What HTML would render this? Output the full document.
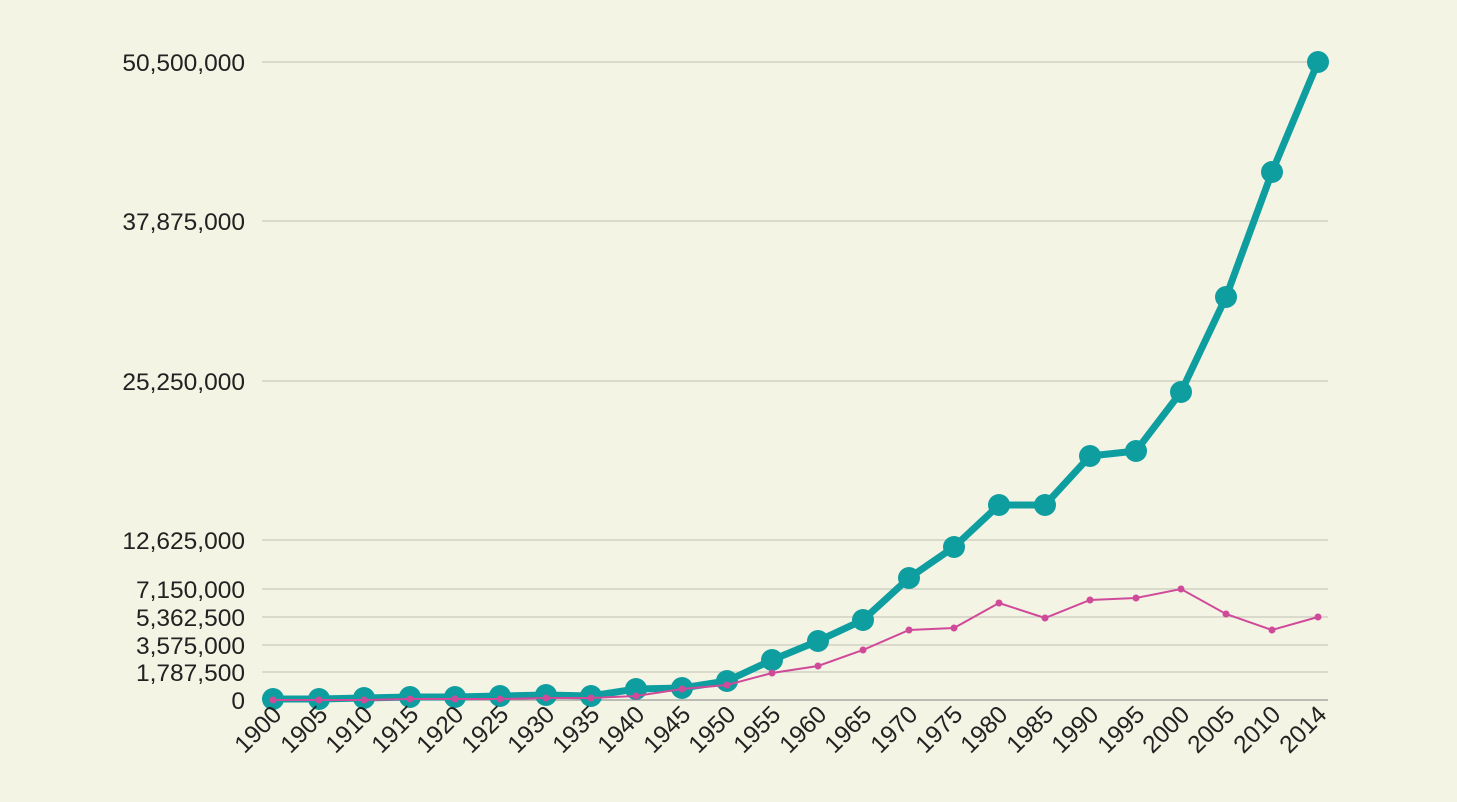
<!DOCTYPE html>
<html><head><style>
html,body{margin:0;padding:0;background:#f4f4e4;}
svg{display:block;font-family:"Liberation Sans",sans-serif;}
</style></head><body>
<svg width="1457" height="802" viewBox="0 0 1457 802">
<rect width="1457" height="802" fill="#f4f4e4"/>
<g stroke="#c9c9bd" stroke-width="1.2">
<line x1="262" x2="1328" y1="62" y2="62"/>
<line x1="262" x2="1328" y1="221" y2="221"/>
<line x1="262" x2="1328" y1="381" y2="381"/>
<line x1="262" x2="1328" y1="540" y2="540"/>
<line x1="262" x2="1328" y1="589" y2="589"/>
<line x1="262" x2="1328" y1="617" y2="617"/>
<line x1="262" x2="1328" y1="645" y2="645"/>
<line x1="262" x2="1328" y1="672" y2="672"/>
<line x1="262" x2="1328" y1="700" y2="700" stroke="#999"/>
</g>
<g font-size="24.5" fill="#222" text-anchor="end">
<text x="245" y="71">50,500,000</text>
<text x="245" y="230">37,875,000</text>
<text x="245" y="390">25,250,000</text>
<text x="245" y="549">12,625,000</text>
<text x="245" y="598">7,150,000</text>
<text x="245" y="626">5,362,500</text>
<text x="245" y="654">3,575,000</text>
<text x="245" y="681">1,787,500</text>
<text x="245" y="709">0</text>
</g>
<polyline fill="none" stroke="#0e9ea0" stroke-width="7" stroke-linejoin="round" points="273,699 319,699 364,698 410,697 455,697 500,696 546,695 591,696 636,689 682,688 727,681 772,660 818,641 863,620 909,578 954,547 999,505 1045,505 1090,456 1136,451 1181,392 1226,297 1272,172 1318,62"/>
<g fill="#0e9ea0">
<circle cx="273" cy="699" r="11"/><circle cx="319" cy="699" r="11"/><circle cx="364" cy="698" r="11"/><circle cx="410" cy="697" r="11"/><circle cx="455" cy="697" r="11"/><circle cx="500" cy="696" r="11"/><circle cx="546" cy="695" r="11"/><circle cx="591" cy="696" r="11"/><circle cx="636" cy="689" r="11"/><circle cx="682" cy="688" r="11"/><circle cx="727" cy="681" r="11"/><circle cx="772" cy="660" r="11"/><circle cx="818" cy="641" r="11"/><circle cx="863" cy="620" r="11"/><circle cx="909" cy="578" r="11"/><circle cx="954" cy="547" r="11"/><circle cx="999" cy="505" r="11"/><circle cx="1045" cy="505" r="11"/><circle cx="1090" cy="456" r="11"/><circle cx="1136" cy="451" r="11"/><circle cx="1181" cy="392" r="11"/><circle cx="1226" cy="297" r="11"/><circle cx="1272" cy="172" r="11"/><circle cx="1318" cy="62" r="11"/>
</g>
<polyline fill="none" stroke="#d04a9a" stroke-width="2" points="273,700 319,700 364,700 410,699 455,699 500,699 546,698 591,698 636,696 682,689 727,685 772,673 818,666 863,650 909,630 954,628 999,603 1045,618 1090,600 1136,598 1181,589 1226,614 1272,630 1318,617"/>
<g fill="#d04a9a">
<circle cx="273" cy="700" r="3.5"/><circle cx="319" cy="700" r="3.5"/><circle cx="364" cy="700" r="3.5"/><circle cx="410" cy="699" r="3.5"/><circle cx="455" cy="699" r="3.5"/><circle cx="500" cy="699" r="3.5"/><circle cx="546" cy="698" r="3.5"/><circle cx="591" cy="698" r="3.5"/><circle cx="636" cy="696" r="3.5"/><circle cx="682" cy="689" r="3.5"/><circle cx="727" cy="685" r="3.5"/><circle cx="772" cy="673" r="3.5"/><circle cx="818" cy="666" r="3.5"/><circle cx="863" cy="650" r="3.5"/><circle cx="909" cy="630" r="3.5"/><circle cx="954" cy="628" r="3.5"/><circle cx="999" cy="603" r="3.5"/><circle cx="1045" cy="618" r="3.5"/><circle cx="1090" cy="600" r="3.5"/><circle cx="1136" cy="598" r="3.5"/><circle cx="1181" cy="589" r="3.5"/><circle cx="1226" cy="614" r="3.5"/><circle cx="1272" cy="630" r="3.5"/><circle cx="1318" cy="617" r="3.5"/>
</g>
<g font-size="24.5" fill="#222" text-anchor="end">
<text transform="translate(283,716) rotate(-45)">1900</text>
<text transform="translate(329,716) rotate(-45)">1905</text>
<text transform="translate(374,716) rotate(-45)">1910</text>
<text transform="translate(420,716) rotate(-45)">1915</text>
<text transform="translate(465,716) rotate(-45)">1920</text>
<text transform="translate(510,716) rotate(-45)">1925</text>
<text transform="translate(556,716) rotate(-45)">1930</text>
<text transform="translate(601,716) rotate(-45)">1935</text>
<text transform="translate(646,716) rotate(-45)">1940</text>
<text transform="translate(692,716) rotate(-45)">1945</text>
<text transform="translate(737,716) rotate(-45)">1950</text>
<text transform="translate(782,716) rotate(-45)">1955</text>
<text transform="translate(828,716) rotate(-45)">1960</text>
<text transform="translate(873,716) rotate(-45)">1965</text>
<text transform="translate(919,716) rotate(-45)">1970</text>
<text transform="translate(964,716) rotate(-45)">1975</text>
<text transform="translate(1009,716) rotate(-45)">1980</text>
<text transform="translate(1055,716) rotate(-45)">1985</text>
<text transform="translate(1100,716) rotate(-45)">1990</text>
<text transform="translate(1146,716) rotate(-45)">1995</text>
<text transform="translate(1191,716) rotate(-45)">2000</text>
<text transform="translate(1236,716) rotate(-45)">2005</text>
<text transform="translate(1282,716) rotate(-45)">2010</text>
<text transform="translate(1328,716) rotate(-45)">2014</text>
</g>
</svg>
</body></html>
